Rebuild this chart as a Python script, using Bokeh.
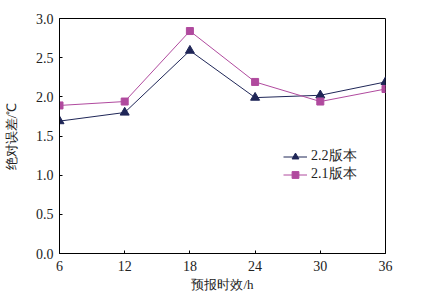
from bokeh.plotting import figure
from bokeh.models import Legend, LegendItem, FixedTicker, Range1d
from bokeh.embed import file_html
from bokeh.resources import INLINE

hours = [6, 12, 18, 24, 30, 36]
v22 = [1.69, 1.80, 2.59, 1.99, 2.02, 2.19]
v21 = [1.89, 1.94, 2.84, 2.19, 1.94, 2.10]
x_ticks = [6, 12, 18, 24, 30, 36]
y_ticks = [0.0, 0.5, 1.0, 1.5, 2.0, 2.5, 3.0]
labels = ["2.2版本", "2.1版本"]

FONT = "Liberation Serif"
NAVY = "#1f2657"
MAG = "#b04a9e"

p = figure(width=427, height=296, output_backend="svg", toolbar_location=None,
           x_range=Range1d(6, 36), y_range=Range1d(0, 3.0))
p.min_border_left = 59
p.min_border_right = 42
p.min_border_top = 18
p.min_border_bottom = 43
p.background_fill_color = "white"
p.border_fill_color = "white"
p.outline_line_color = "black"
p.outline_line_width = 1
p.grid.visible = False

for ax in (p.xaxis[0], p.yaxis[0]):
    ax.major_tick_in = 3
    ax.major_tick_out = 0
    ax.minor_tick_in = 0
    ax.minor_tick_out = 0
    ax.axis_line_color = "black"
    ax.major_tick_line_color = "black"
    ax.major_label_text_font = FONT
    ax.major_label_text_font_size = "14px"
    ax.major_label_text_color = "#222222"
    ax.axis_label_text_font = FONT
    ax.axis_label_text_font_size = "13px"
    ax.axis_label_text_font_style = "normal"
    ax.axis_label_text_color = "#222222"

p.xaxis.ticker = FixedTicker(ticks=x_ticks)
p.yaxis.ticker = FixedTicker(ticks=y_ticks)
p.yaxis.major_label_overrides = {t: f"{t:.1f}" for t in y_ticks}
p.xaxis.major_label_standoff = 7
p.yaxis.major_label_standoff = 6
p.xaxis.axis_label = "预报时效/h"
p.yaxis.axis_label = "绝对误差/℃"
p.xaxis.axis_label_standoff = 3
p.yaxis.axis_label_standoff = 14

l1 = p.line(hours, v22, line_color=NAVY, line_width=1)
s1 = p.scatter(hours, v22, marker="triangle", size=9, fill_color=NAVY, line_color=NAVY)
l2 = p.line(hours, v21, line_color=MAG, line_width=1)
s2 = p.scatter(hours, v21, marker="square", size=7, fill_color=MAG, line_color=MAG)

legend = Legend(items=[LegendItem(label=labels[0], renderers=[l1, s1]),
                       LegendItem(label=labels[1], renderers=[l2, s2])],
                location=(224, 70))
legend.background_fill_alpha = 0
legend.border_line_alpha = 0
legend.padding = 0
legend.margin = 0
legend.spacing = 0
legend.glyph_width = 24
legend.glyph_height = 17
legend.label_height = 17
legend.label_standoff = 4
legend.label_text_font = FONT
legend.label_text_font_size = "14px"
legend.label_text_color = "#222222"
p.add_layout(legend, "center")

open("out.html", "w").write(file_html(p, INLINE))
